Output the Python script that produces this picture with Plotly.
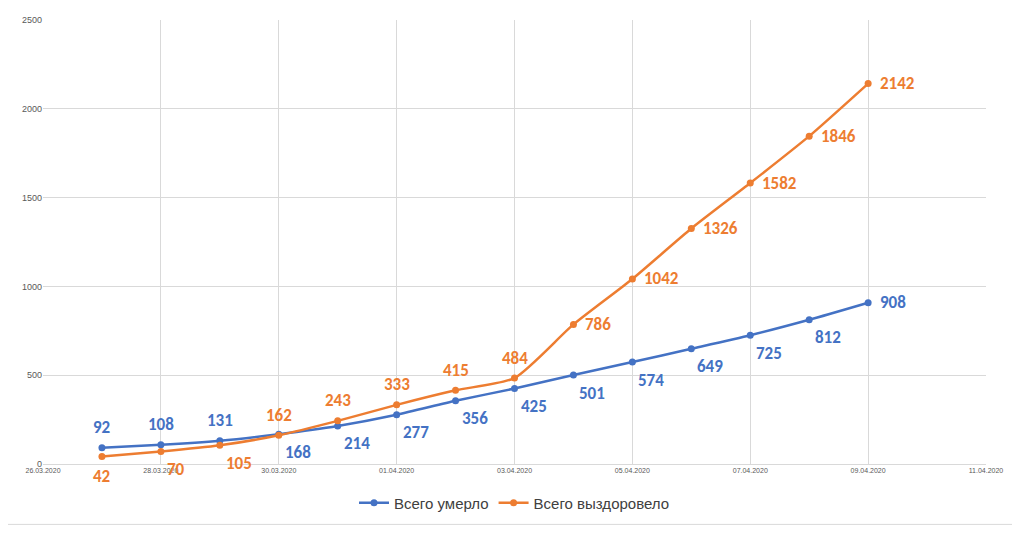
import plotly.graph_objects as go

dates = ["2020-03-27", "2020-03-28", "2020-03-29", "2020-03-30", "2020-03-31", "2020-04-01", "2020-04-02",
         "2020-04-03", "2020-04-04", "2020-04-05", "2020-04-06", "2020-04-07", "2020-04-08", "2020-04-09"]
died = [92, 108, 131, 168, 214, 277, 356, 425, 501, 574, 649, 725, 812, 908]
recovered = [42, 70, 105, 162, 243, 333, 415, 484, 786, 1042, 1326, 1582, 1846, 2142]
tick_vals = ["2020-03-26", "2020-03-28", "2020-03-30", "2020-04-01", "2020-04-03",
             "2020-04-05", "2020-04-07", "2020-04-09", "2020-04-11"]

BLUE = "#4472C4"
ORANGE = "#ED7D31"
LABEL_FONT = "Calibri, Carlito, Liberation Sans, sans-serif"

# label placement: "t" above, "b" below-right, "r" right
died_pos = ["t"] * 3 + ["b"] * 10 + ["r"]
rec_pos = ["bc"] + ["b"] * 2 + ["t"] * 5 + ["r"] * 6
shifts = {"t": (0, 20, "center"), "b": (4, -18, "left"), "bc": (0, -20, "center"), "r": (10, 0, "left")}

fig = go.Figure()
for name, vals, color, pos in [("Всего умерло", died, BLUE, died_pos),
                               ("Всего выздоровело", recovered, ORANGE, rec_pos)]:
    fig.add_trace(go.Scatter(
        x=dates, y=vals, name=name, mode="lines+markers",
        line=dict(color=color, width=2.5, shape="spline", smoothing=0.6),
        marker=dict(size=7, color=color), cliponaxis=False,
    ))
    for d, v, p in zip(dates, vals, pos):
        dx, dy, anchor = shifts[p]
        fig.add_annotation(x=d, y=v, text=f"<b>{v}</b>", showarrow=False,
                           xanchor=anchor, yanchor="middle", xshift=dx, yshift=dy,
                           font=dict(color=color, size=17, family=LABEL_FONT))

fig.update_layout(
    width=1004, height=519,
    margin=dict(l=35, r=26, t=7, b=56),
    paper_bgcolor="white", plot_bgcolor="white",
    font=dict(family="Liberation Sans, sans-serif", color="#595959"),
    legend=dict(orientation="h", x=0.5, xanchor="center", y=-0.088, yanchor="middle",
                font=dict(size=15, color="#404040")),
)
fig.update_xaxes(
    type="date", range=["2020-03-26", "2020-04-11"],
    tickvals=tick_vals, tickformat="%d.%m.%Y",
    tickfont=dict(size=7, color="#595959"),
    showgrid=True, gridcolor="#D9D9D9", showline=True, linecolor="#D9D9D9",
    ticks="", zeroline=False,
)
fig.update_yaxes(
    range=[0, 2500], dtick=500, tickfont=dict(size=9, color="#595959"),
    showgrid=True, gridcolor="#D9D9D9", zeroline=False, ticks="",
)
fig.add_shape(type="rect", xref="paper", yref="paper", x0=-0.0445, y0=-0.136, x1=1.034, y1=1.03,
              line=dict(color="#D9D9D9", width=1))

fig.write_html("out.html")
